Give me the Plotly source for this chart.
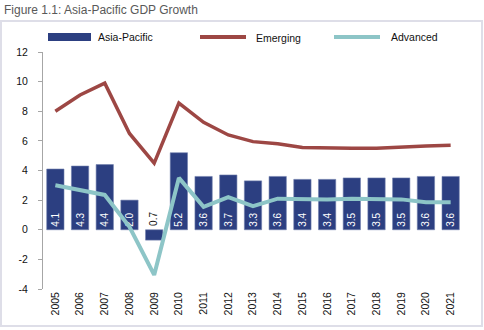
import plotly.graph_objects as go

# Annual real GDP growth, %
years = [str(y) for y in range(2005, 2022)]
asia_pacific = [4.1, 4.3, 4.4, 2.0, -0.7, 5.2, 3.6, 3.7, 3.3, 3.6, 3.4, 3.4, 3.5, 3.5, 3.5, 3.6, 3.6]
emerging = [8.0, 9.1, 9.9, 6.5, 4.5, 8.55, 7.25, 6.4, 5.95, 5.8, 5.55, 5.5, 5.5, 5.5, 5.6, 5.65, 5.7]
advanced = [3.0, 2.7, 2.35, 0.2, -3.05, 3.5, 1.55, 2.2, 1.6, 2.1, 2.05, 2.05, 2.1, 2.1, 2.05, 1.85, 1.85]

y_ticks = [-4, -2, 0, 2, 4, 6, 8, 10, 12]
y_tick_text = [str(v) for v in y_ticks]

NAVY = "#2c3f81"
RED = "#9d4744"
TEAL = "#8dc5c7"
AXIS = "#a6a6a6"
FONT = "Liberation Sans, Arial, sans-serif"

bar_text = [f"{v:.1f}" if v >= 0 else "" for v in asia_pacific]

fig = go.Figure()
fig.add_trace(go.Bar(
    x=years, y=asia_pacific, name="Asia-Pacific",
    marker=dict(color=NAVY, line=dict(color="#7080ad", width=0.6)),
    width=0.7,
    text=bar_text, textposition="inside", insidetextanchor="start",
    textangle=-90, constraintext="none",
    textfont=dict(color="white", size=10, family=FONT),
    showlegend=False,
))
fig.add_trace(go.Scatter(
    x=years, y=emerging, name="Emerging", mode="lines",
    line=dict(color=RED, width=3.5), showlegend=False,
))
fig.add_trace(go.Scatter(
    x=years, y=advanced, name="Advanced", mode="lines",
    line=dict(color=TEAL, width=4), showlegend=False,
))

# labels for negative bars sit just above the zero line
annotations = []
for i, v in enumerate(asia_pacific):
    if v < 0:
        annotations.append(dict(
            x=i, y=0, xref="x", yref="y", text=f"{abs(v):.1f}",
            textangle=-90, showarrow=False, yanchor="bottom", yshift=2,
            font=dict(color="#111111", size=10, family=FONT),
        ))

# paper-coordinate helpers (plot area spans 43..463 px wide, 52..289 px tall)
def px(x):
    return (x - 43) / 420


def py(y):
    return (289 - y) / 237


shapes = [
    # outer frame
    dict(type="rect", xref="paper", yref="paper",
         x0=px(1), x1=px(482), y0=py(326), y1=py(21),
         line=dict(color="#dedee8", width=2), layer="below"),
    # legend keys
    dict(type="rect", xref="paper", yref="paper",
         x0=px(48), x1=px(91), y0=py(41), y1=py(33),
         fillcolor=NAVY, line=dict(width=0)),
    dict(type="line", xref="paper", yref="paper",
         x0=px(200), x1=px(246), y0=py(37), y1=py(37),
         line=dict(color=RED, width=4)),
    dict(type="line", xref="paper", yref="paper",
         x0=px(334), x1=px(380), y0=py(37), y1=py(37),
         line=dict(color=TEAL, width=4)),
]

for label, x0, yc in [("Asia-Pacific", 96, 37), ("Emerging", 254, 38), ("Advanced", 389, 37)]:
    annotations.append(dict(
        x=px(x0), y=py(yc), xref="paper", yref="paper", text=label,
        xanchor="left", yanchor="middle", showarrow=False,
        font=dict(color="#111111", size=10.5, family=FONT),
    ))

annotations.append(dict(
    x=px(2), y=py(10), xref="paper", yref="paper",
    text="Figure 1.1: Asia-Pacific GDP Growth",
    xanchor="left", yanchor="middle", showarrow=False,
    font=dict(color="#595959", size=12, family=FONT),
))

n = len(years)
fig.update_layout(
    width=484, height=330,
    margin=dict(l=43, r=21, t=52, b=41),
    paper_bgcolor="white", plot_bgcolor="white",
    bargap=0.3,
    font=dict(family=FONT, color="#111111"),
    shapes=shapes, annotations=annotations,
    xaxis=dict(
        type="category", range=[-0.5, n - 0.5],
        showline=False, ticks="", showgrid=False, zeroline=False,
        tickangle=-90, tickfont=dict(size=10.5, family=FONT, color="#111111"),
    ),
    xaxis2=dict(
        overlaying="x", anchor="free", position=0.25,
        range=[-0.5, n - 0.5], showgrid=False, zeroline=False,
        showline=True, linecolor=AXIS, linewidth=1,
        ticks="outside", ticklen=4, tickcolor=AXIS,
        tickvals=[i - 0.5 for i in range(n + 1)], showticklabels=False,
    ),
    yaxis=dict(
        range=[-4, 12], tickvals=y_ticks, ticktext=y_tick_text,
        showline=True, linecolor=AXIS, linewidth=1,
        ticks="outside", ticklen=4, tickcolor=AXIS,
        showgrid=False, zeroline=False,
        tickfont=dict(size=10.5, family=FONT, color="#111111"),
        ticklabelstandoff=8,
    ),
)

fig.write_html("out.html")
